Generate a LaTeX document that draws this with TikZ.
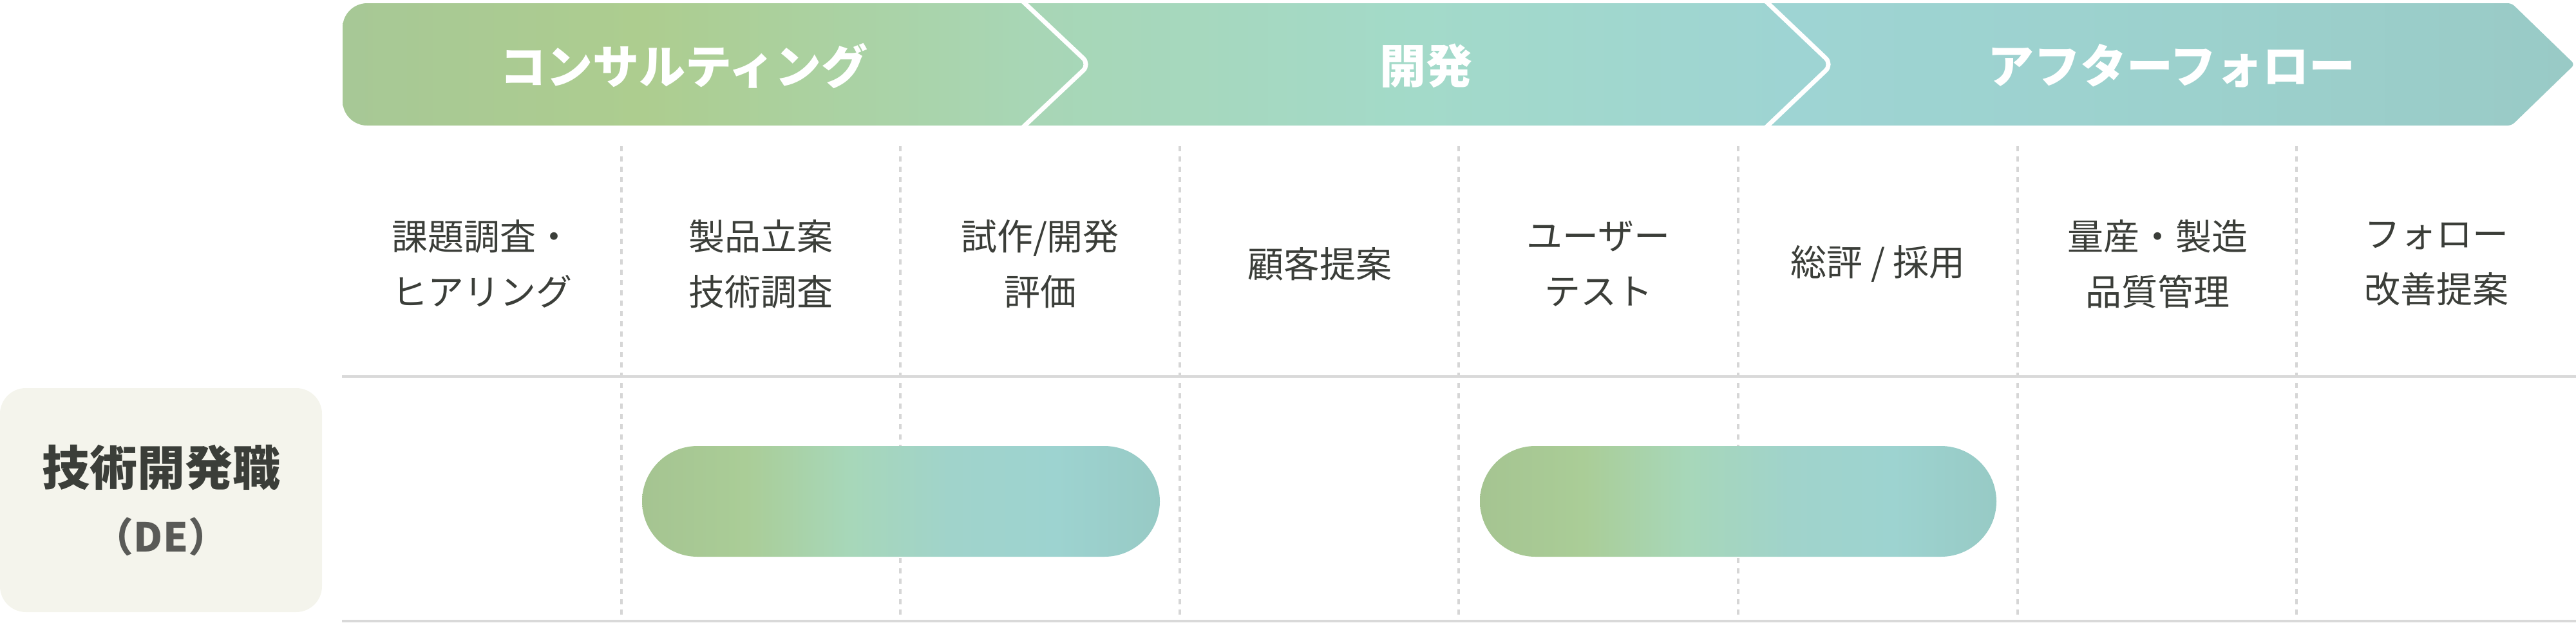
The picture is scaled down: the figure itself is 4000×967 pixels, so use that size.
\documentclass[tikz,border=0pt]{standalone}
\usepackage{fontspec}
\setmainfont{Noto Sans CJK JP}
\definecolor{txt}{HTML}{3B3E39}
\definecolor{degray}{HTML}{595A57}
\definecolor{gridc}{HTML}{D9D9D9}
\definecolor{dashc}{HTML}{D6D6D6}
\definecolor{leftbg}{HTML}{F4F4EC}
\definecolor{h0}{HTML}{A7C896}
\definecolor{h1}{HTML}{ADCD8F}
\definecolor{h2}{HTML}{A8D6B5}
\definecolor{h3}{HTML}{A3DAC9}
\definecolor{h4}{HTML}{9ED4D3}
\definecolor{h5}{HTML}{9CD1CD}
\definecolor{h6}{HTML}{99CAC6}
\definecolor{b0}{HTML}{A5C491}
\definecolor{b1}{HTML}{AACD97}
\definecolor{b2}{HTML}{A7D7B9}
\definecolor{b3}{HTML}{A0D3CB}
\definecolor{b4}{HTML}{9DD3D0}
\definecolor{b5}{HTML}{97CAC5}
\pgfdeclarehorizontalshading{hdrshade}{100bp}{color(0bp)=(h0); color(25bp)=(h0); color(31.75bp)=(h1); color(40.25bp)=(h2); color(49bp)=(h3); color(57.5bp)=(h4); color(66.5bp)=(h5); color(75bp)=(h6); color(100bp)=(h6)}
\pgfdeclarehorizontalshading{barshade}{100bp}{color(0bp)=(b0); color(25bp)=(b0); color(35bp)=(b1); color(45bp)=(b2); color(55bp)=(b3); color(65bp)=(b4); color(75bp)=(b5); color(100bp)=(b5)}
\begin{document}
\begin{tikzpicture}[x=1pt,y=-1pt,
  gridline/.style={draw=gridc, line width=4pt},
  vdash/.style={draw=dashc, line width=4pt, dash pattern=on 8pt off 8pt},
  sepline/.style={draw=white, line width=7pt, rounded corners=14pt},
  phase/.style={font=\fontsize{72}{86}\selectfont\bfseries, text=white, inner sep=0pt},
  task/.style={font=\fontsize{56}{86}\selectfont, text=txt, align=center, inner sep=0pt},
  barshape/.style={shading=barshade, rounded corners=86pt}]
\useasboundingbox (0,0) rectangle (4000,967);
% header band
\begin{scope}
  \clip[rounded corners=38pt] (532,5) rectangle (800,195)
    [rounded corners=6pt] (700,5) -- (700,195) -- (3900,195) -- (3998,100) -- (3900,5) -- cycle;
  \shade[shading=hdrshade] (532,5) rectangle (3998,195);
\end{scope}
\draw[sepline] (1586,0) -- (1692,100) -- (1586,200);
\draw[sepline] (2740,0) -- (2845,100) -- (2740,200);
\node[phase] (p1) at (1062,102) {コンサルティング};
\node[phase] (p2) at (2214,102) {開発};
\node[phase] (p3) at (3372,102) {アフターフォロー};
% grid
\foreach \i in {1,...,7}
  \draw[vdash] ({531+433.6*\i},227) -- ({531+433.6*\i},967);
\draw[gridline] (531,585) -- (4000,585);
\draw[gridline] (531,965) -- (4000,965);
% task labels
\node[task] (t1) at (748,410) {課題調査・\\ヒアリング};
\node[task] (t2) at (1181,410) {製品立案\\技術調査};
\node[task] (t3) at (1615,410) {試作/開発\\評価};
\node[task] (t4) at (2049,410) {顧客提案};
\node[task] (t5) at (2482,410) {ユーザー\\テスト};
\node[task] (t6) at (2916,410) {総評 / 採用};
\node[task] (t7) at (3350,410) {量産・製造\\品質管理};
\node[task] (t8) at (3783,410) {フォロー\\改善提案};
% role box
\fill[leftbg, rounded corners=40pt] (0,603) rectangle (500,951);
\node[font=\fontsize{74}{80}\selectfont\bfseries, text=txt, inner sep=0pt] (role) at (250,727) {技術開発職};
\node[font=\fontsize{62}{70}\selectfont\bfseries, text=degray, inner sep=0pt] (roleabbr) at (250,834) {（DE）};
% bars
\shade[barshape] (997,693) rectangle (1801,865);
\shade[barshape] (2298,693) rectangle (3100,865);
\end{tikzpicture}
\end{document}
